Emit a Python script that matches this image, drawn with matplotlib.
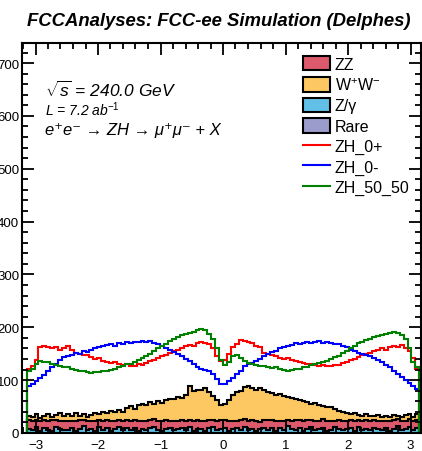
import numpy as np
import matplotlib
matplotlib.use("Agg")
import matplotlib.pyplot as plt
from matplotlib.patches import Patch
from matplotlib.lines import Line2D
from matplotlib.ticker import MultipleLocator

plt.rcParams['font.family'] = ['Liberation Sans', 'DejaVu Sans']
plt.rcParams['mathtext.fontset'] = 'custom'
plt.rcParams['mathtext.rm'] = 'Liberation Sans'
plt.rcParams['mathtext.it'] = 'Liberation Sans:italic'
plt.rcParams['mathtext.bf'] = 'Liberation Sans:bold'

# 100 bins in phi between -pi and pi
n_bins = 100

# backgrounds, stacked bottom to top
rare = [0.4, 0.2, 0.5, 0.3, 0.1, 0.4, 0.6, 0.2, 0.3, 0.5,
        0.2, 0.4, 0.3, 0.1, 0.5, 0.3, 0.2, 0.4, 0.6, 0.3,
        0.5, 0.2, 0.3, 0.4, 0.1, 0.6, 0.3, 0.2, 0.5, 0.4,
        0.3, 0.5, 0.2, 0.4, 0.6, 0.3, 0.1, 0.4, 0.5, 0.2,
        0.4, 0.3, 0.6, 0.2, 0.5, 0.4, 0.3, 0.1, 0.4, 0.5,
        0.3, 0.6, 0.2, 0.4, 0.3, 0.5, 0.2, 0.4, 0.1, 0.3,
        0.5, 0.3, 0.4, 0.2, 0.6, 0.3, 0.4, 0.5, 0.2, 0.3,
        0.4, 0.1, 0.5, 0.3, 0.2, 0.4, 0.6, 0.3, 0.5, 0.2,
        0.3, 0.4, 0.2, 0.5, 0.3, 0.1, 0.4, 0.6, 0.3, 0.2,
        0.5, 0.3, 0.4, 0.2, 0.6, 0.4, 0.3, 0.5, 0.2, 0.4]

zgamma = [8, 5, 10, 3, 9, 6, 4, 11, 7, 5,
          6, 9, 4, 8, 12, 5, 7, 3, 10, 6,
          9, 4, 7, 11, 5, 8, 6, 10, 3, 7,
          5, 9, 12, 6, 4, 8, 10, 5, 7, 9,
          6, 11, 4, 8, 7, 3, 9, 12, 5, 8,
          10, 4, 7, 9, 6, 11, 5, 8, 3, 7,
          9, 6, 10, 4, 8, 5, 12, 7, 6, 9,
          4, 8, 11, 5, 7, 9, 3, 6, 10, 8,
          5, 7, 9, 4, 11, 6, 8, 5, 10, 7,
          6, 9, 4, 8, 12, 5, 7, 10, 6, 9]

zz = [16, 18, 14, 19, 15, 17, 20, 13, 16, 18,
      17, 14, 19, 16, 13, 18, 15, 20, 14, 17,
      16, 19, 15, 13, 18, 16, 17, 14, 20, 15,
      18, 15, 14, 17, 19, 16, 13, 18, 16, 15,
      17, 14, 18, 16, 15, 19, 16, 13, 18, 17,
      15, 19, 16, 14, 18, 15, 17, 16, 20, 14,
      16, 18, 15, 19, 14, 17, 13, 16, 18, 15,
      19, 16, 14, 18, 15, 17, 19, 16, 13, 17,
      18, 15, 16, 19, 14, 17, 16, 18, 15, 16,
      17, 14, 19, 16, 13, 18, 15, 16, 17, 15]

ww = [8, 7, 11, 6, 9, 13, 6, 10, 15, 9,
      12, 8, 14, 9, 11, 7, 12, 15, 11, 17,
      12, 19, 17, 20, 17, 22, 27, 21, 29, 33,
      30, 34, 29, 37, 34, 38, 42, 40, 45, 42,
      49, 63, 56, 58, 58, 63, 53, 45, 39, 27,
      30, 39, 49, 55, 56, 60, 67, 60, 59, 64,
      55, 54, 51, 49, 51, 48, 43, 43, 40, 38,
      37, 34, 30, 34, 30, 24, 26, 27, 22, 17,
      17, 16, 11, 15, 9, 10, 11, 9, 6, 10,
      7, 9, 6, 10, 6, 7, 11, 9, 7, 12]

# signal hypotheses
zh_0p = [121, 126, 138, 162, 165, 163, 160, 162, 158, 161,
         165, 158, 152, 150, 147, 148, 143, 140, 141, 137,
         135, 133, 134, 130, 128, 131, 127, 126, 130, 129,
         133, 136, 138, 142, 145, 148, 152, 155, 158, 160,
         164, 166, 165, 170, 172, 170, 168, 160, 145, 136,
         138, 150, 162, 168, 176, 175, 172, 170, 165, 162,
         152, 150, 148, 145, 142, 140, 141, 138, 136, 135,
         133, 131, 130, 128, 127, 128, 126, 127, 129, 128,
         132, 134, 138, 140, 143, 147, 150, 152, 155, 158,
         160, 157, 162, 165, 163, 166, 160, 155, 142, 122]

zh_0m = [88, 92, 98, 105, 110, 118, 124, 130, 138, 143,
         146, 148, 152, 150, 155, 153, 158, 160, 162, 165,
         166, 168, 165, 170, 168, 172, 170, 173, 172, 175,
         172, 174, 171, 168, 165, 160, 158, 154, 150, 146,
         140, 136, 130, 125, 121, 119, 117, 112, 102, 93,
         92, 98, 105, 111, 118, 126, 130, 133, 137, 140,
         146, 150, 153, 156, 160, 163, 165, 167, 170, 168,
         171, 173, 170, 172, 174, 171, 172, 170, 168, 169,
         165, 162, 158, 156, 152, 150, 148, 146, 142, 138,
         134, 128, 124, 118, 112, 106, 100, 95, 88, 83]

zh_50_50 = [117, 122, 130, 136, 135, 134, 130, 128, 127, 125,
            124, 122, 120, 118, 117, 115, 114, 116, 115, 117,
            118, 120, 122, 125, 127, 130, 131, 134, 138, 142,
            146, 150, 155, 160, 164, 168, 174, 178, 182, 186,
            188, 190, 192, 195, 196, 194, 188, 178, 160, 138,
            128, 135, 145, 148, 142, 136, 132, 130, 128, 127,
            126, 125, 123, 124, 122, 120, 118, 119, 121, 122,
            124, 125, 128, 130, 132, 134, 137, 140, 143, 146,
            152, 156, 160, 165, 170, 173, 176, 178, 182, 184,
            186, 188, 190, 192, 190, 186, 178, 160, 135, 124]

bkg_names = ['ZZ', r'W$^{+}$W$^{-}$', 'Z/γ', 'Rare']
bkg_colors = ['#dc5a6c', '#fdc862', '#62bfe6', '#9b9bcc']
sig_names = ['ZH_0+', 'ZH_0-', 'ZH_50_50']
sig_colors = ['#ff0000', '#0000ff', '#008000']

edges = np.linspace(-np.pi, np.pi, n_bins + 1)

fig = plt.figure(figsize=(4.22, 4.52), dpi=100)
W, H = 422, 452
ax = fig.add_axes([22 / W, 1 - 434 / H, 399 / W, 390 / H])

# stacked backgrounds: draw cumulative sums from the top down
layers = [np.array(rare, float), np.array(zgamma, float),
          np.array(zz, float), np.array(ww, float)]
cum = np.cumsum(layers, axis=0)
stack_colors = [bkg_colors[3], bkg_colors[2], bkg_colors[0], bkg_colors[1]]
for k in range(3, -1, -1):
    ax.stairs(cum[k], edges, baseline=0, fill=True,
              facecolor=stack_colors[k], edgecolor='black', linewidth=1.5)

for vals, col in zip([zh_0p, zh_0m, zh_50_50], sig_colors):
    ax.stairs(vals, edges, baseline=0, fill=False, color=col, linewidth=1.5)

ax.set_xlim(-3.216, 3.168)
ax.set_ylim(0, 738)
ax.xaxis.set_major_locator(MultipleLocator(1))
ax.xaxis.set_minor_locator(MultipleLocator(0.2))
ax.yaxis.set_major_locator(MultipleLocator(100))
ax.yaxis.set_minor_locator(MultipleLocator(20))
ax.tick_params(which='both', direction='in', top=True, right=True,
               width=1.3, labelsize=9.5, colors='black')
ax.tick_params(which='major', length=8.5)
ax.tick_params(which='minor', length=4.5)
ax.tick_params(axis='y', pad=2)
ax.tick_params(axis='x', pad=4)
for sp in ax.spines.values():
    sp.set_linewidth(1.5)

fig.text(219 / W, 1 - 21 / H, 'FCCAnalyses: FCC-ee Simulation (Delphes)',
         ha='center', va='center', fontsize=13.3, fontweight='bold',
         fontstyle='italic')

ax.text(45 / W, 1 - 90 / H, r'$\sqrt{s}$ = 240.0 GeV', transform=fig.transFigure,
        ha='left', va='center', fontsize=12.5, fontstyle='italic')
ax.text(45 / W, 1 - 110 / H, r'L = 7.2 ab$^{-1}$', transform=fig.transFigure,
        ha='left', va='center', fontsize=10, fontstyle='italic')
ax.text(45 / W, 1 - 130 / H, 'e⁺e⁻ → ZH → μ⁺μ⁻ + X',
        transform=fig.transFigure, ha='left', va='center', fontsize=12,
        fontstyle='italic')

handles = [Patch(facecolor=c, edgecolor='black', linewidth=1.5) for c in bkg_colors]
handles += [Line2D([], [], color=c, linewidth=1.5) for c in sig_colors]
ax.legend(handles, bkg_names + sig_names, loc='upper left',
          bbox_to_anchor=(303 / W, 1 - 57 / H), bbox_transform=fig.transFigure,
          frameon=False, fontsize=11.5, handlelength=1.7, handleheight=1.0,
          handletextpad=0.3, labelspacing=0.3, borderpad=0, borderaxespad=0)

fig.savefig('out.png', dpi=100)
